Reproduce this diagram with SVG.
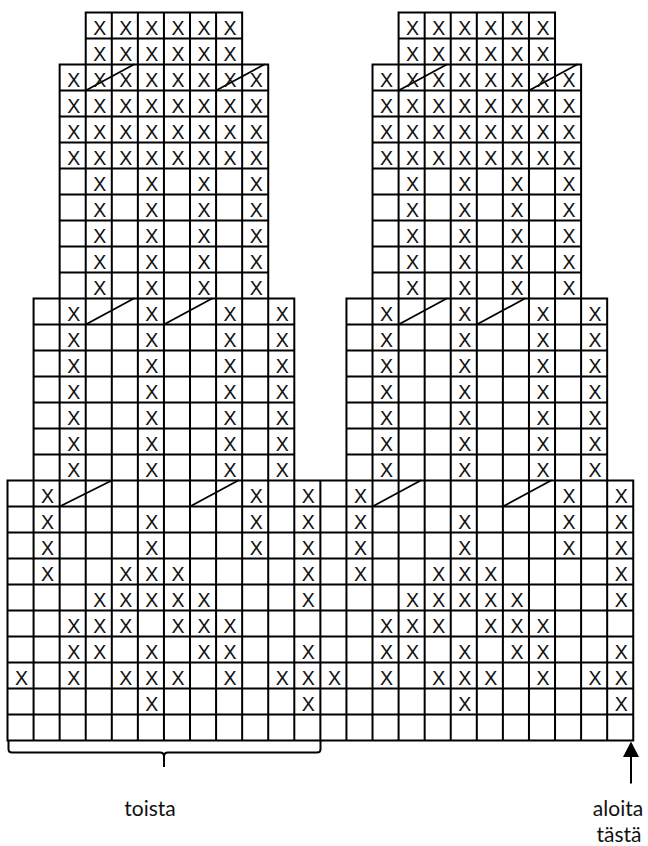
<svg xmlns="http://www.w3.org/2000/svg" width="648" height="846" viewBox="0 0 648 846">
<style>
.grid{fill:none;stroke:#000;stroke-width:2;stroke-linecap:square}
.slash{fill:none;stroke:#000;stroke-width:1.8;stroke-linecap:round}
.st{font-family:"Liberation Sans",Arial,sans-serif;font-size:19.5px;fill:#111;text-anchor:middle}
.lbl{font-family:Lato,"Liberation Sans",sans-serif;font-size:21px;fill:#111;text-anchor:middle}
.line{fill:none;stroke:#000;stroke-width:2}
</style>
<rect x="0" y="0" width="648" height="846" fill="#fff"/>
<g id="chart" transform="translate(7.5,12.5) scale(1.0028,1)">
<path id="grid" class="grid" d="M0 468H624M0 494H624M0 520H624M0 546H624M0 572H624M0 598H624M0 624H624M0 650H624M0 676H624M0 702H624M0 728H624
M0 468V728M26 468V728M52 468V728M78 468V728M104 468V728M130 468V728M156 468V728M182 468V728M208 468V728M234 468V728M260 468V728M286 468V728M312 468V728M338 468V728M364 468V728M390 468V728M416 468V728M442 468V728M468 468V728M494 468V728M520 468V728M546 468V728M572 468V728M598 468V728M624 468V728
M26 286H286M26 312H286M26 338H286M26 364H286M26 390H286M26 416H286M26 442H286
M26 286V468M52 286V468M78 286V468M104 286V468M130 286V468M156 286V468M182 286V468M208 286V468M234 286V468M260 286V468M286 286V468
M338 286H598M338 312H598M338 338H598M338 364H598M338 390H598M338 416H598M338 442H598
M338 286V468M364 286V468M390 286V468M416 286V468M442 286V468M468 286V468M494 286V468M520 286V468M546 286V468M572 286V468M598 286V468
M52 52H260M52 78H260M52 104H260M52 130H260M52 156H260M52 182H260M52 208H260M52 234H260M52 260H260
M52 52V286M78 52V286M104 52V286M130 52V286M156 52V286M182 52V286M208 52V286M234 52V286M260 52V286
M78 0H234M78 26H234
M78 0V52M104 0V52M130 0V52M156 0V52M182 0V52M208 0V52M234 0V52
M364 52H572M364 78H572M364 104H572M364 130H572M364 156H572M364 182H572M364 208H572M364 234H572M364 260H572
M364 52V286M390 52V286M416 52V286M442 52V286M468 52V286M494 52V286M520 52V286M546 52V286M572 52V286
M390 0H546M390 26H546
M390 0V52M416 0V52M442 0V52M468 0V52M494 0V52M520 0V52M546 0V52"/>
<g id="slashes" class="slash">
<path d="M78 78L126 52M208 78L256 52M390 78L438 52M520 78L568 52"/>
<path d="M78 312L126 286M156 312L204 286M390 312L438 286M468 312L516 286"/>
<path d="M52 494L104 468M182 494L230 468M364 494L412 468M494 494L542 468"/>
</g>
<g id="stitches" class="st">
<text x="92 118 144 170 196 222 404 430 456 482 508 534" y="22.5">XXXXXXXXXXXX</text>
<text x="92 118 144 170 196 222 404 430 456 482 508 534" y="48.5">XXXXXXXXXXXX</text>
<text x="66 92 118 144 170 196 222 248 378 404 430 456 482 508 534 560" y="74.5">XXXXXXXXXXXXXXXX</text>
<text x="66 92 118 144 170 196 222 248 378 404 430 456 482 508 534 560" y="100.5">XXXXXXXXXXXXXXXX</text>
<text x="66 92 118 144 170 196 222 248 378 404 430 456 482 508 534 560" y="126.5">XXXXXXXXXXXXXXXX</text>
<text x="66 92 118 144 170 196 222 248 378 404 430 456 482 508 534 560" y="152.5">XXXXXXXXXXXXXXXX</text>
<text x="92 144 196 248 404 456 508 560" y="178.5">XXXXXXXX</text>
<text x="92 144 196 248 404 456 508 560" y="204.5">XXXXXXXX</text>
<text x="92 144 196 248 404 456 508 560" y="230.5">XXXXXXXX</text>
<text x="92 144 196 248 404 456 508 560" y="256.5">XXXXXXXX</text>
<text x="92 144 196 248 404 456 508 560" y="282.5">XXXXXXXX</text>
<text x="66 144 222 274 378 456 534 586" y="309">XXXXXXXX</text>
<text x="66 144 222 274 378 456 534 586" y="335">XXXXXXXX</text>
<text x="66 144 222 274 378 456 534 586" y="361">XXXXXXXX</text>
<text x="66 144 222 274 378 456 534 586" y="387">XXXXXXXX</text>
<text x="66 144 222 274 378 456 534 586" y="413">XXXXXXXX</text>
<text x="66 144 222 274 378 456 534 586" y="439">XXXXXXXX</text>
<text x="66 144 222 274 378 456 534 586" y="465">XXXXXXXX</text>
<text x="40 248 300 352 560 612" y="490.5">XXXXXX</text>
<text x="40 144 248 300 352 456 560 612" y="516.5">XXXXXXXX</text>
<text x="40 144 248 300 352 456 560 612" y="542.5">XXXXXXXX</text>
<text x="40 118 144 170 300 352 430 456 482 612" y="568.5">XXXXXXXXXX</text>
<text x="92 118 144 170 196 300 404 430 456 482 508 612" y="594.5">XXXXXXXXXXXX</text>
<text x="66 92 118 170 196 222 378 404 430 482 508 534" y="620.5">XXXXXXXXXXXX</text>
<text x="66 92 144 196 222 300 378 404 456 508 534 612" y="646.5">XXXXXXXXXXXX</text>
<text x="14 66 118 144 170 222 274 300 326 378 430 456 482 534 586 612" y="672.5">XXXXXXXXXXXXXXXX</text>
<text x="144 300 456 612" y="698.5">XXXX</text>
</g>
</g>
<g id="brace">
<path class="line" d="M8.5 741V749Q8.5 752.5 12 752.5H160Q164 752.5 164 756.5V767M164 756.5Q164 752.5 168 752.5H317Q320.5 752.5 320.5 749V741"/>
</g>
<g id="arrow">
<line class="line" x1="631" y1="783.5" x2="631" y2="755"/>
<polygon points="631,741.5 623,757 639,757" fill="#000"/>
</g>
<g id="labels" class="lbl">
<text x="150" y="816">toista</text>
<text x="618" y="816">aloita</text>
<text x="619" y="842">tästä</text>
</g>
</svg>
